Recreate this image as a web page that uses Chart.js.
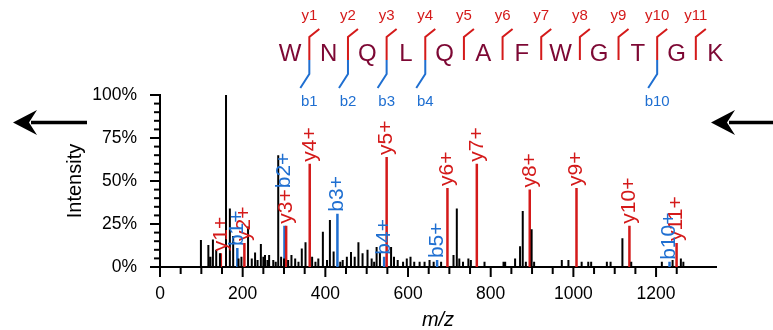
<!DOCTYPE html>
<html><head><meta charset="utf-8">
<script src="https://cdn.jsdelivr.net/npm/chart.js@4/dist/chart.umd.min.js"></script>
<style>html,body{margin:0;padding:0;background:#fff}#c{display:block}</style>
</head><body>
<canvas id="c" width="773" height="330"></canvas>
<script>
// ---------- data ----------
const blackMz  = [99,117,122,128,136,145,159.7,169,177,190,197,213,222,230,236,244,250,254,260,264,274,280,286,293,300,310,318,327,335,343,352,368,376,383,394,404,411,420,436,442,452,462,471,480,490,502,512,518,524,532,559,566,575,588,597,606,615,628,640,652,662,680,710,718,724,733,746,752,785,831,835,859,871,877.5,885,899,905,972,988,1020,1036,1043,1081,1090,1118.6,1140,1214,1240,1260,1266];
const blackInt = [15.7,12.8,6,16,10,8,100,34,18,5,6,23.5,5,8.5,4,13.4,6,7,4,7,4,3,65,6,5,4,7,5,3,10.8,14.4,6,3,5,20.5,4,27.3,9,3,4,6,8.7,6,14.4,8,10,5,3,11.6,8.5,11.6,6,4,3,5,6,3,3,3,4,3,3,7,34,5,3,5,4,3,3,3,5,12,32.6,3,22,3,4,4,3,3,3,3,3,16.7,3,3,4,5,3];

const yIonNames = ['y1+','y2+','y3+','y4+','y5+','y6+','y7+','y8+','y9+','y10+','y11+'];
const yIonMz    = [147.11,204.13,305.18,362.2,548.28,695.35,766.39,894.45,1007.54,1135.59,1249.64];
const yIonInt   = [8,14,24,60,64,46,60,45,46,24,14];

const bIonNames = ['b1+','b2+','b3+','b4+','b5+','b10+'];
const bIonMz    = [187.08,301.13,429.19,542.27,670.33,1232.59];
const bIonInt   = [11,24,31,6,4,3];

const sequence = ['W','N','Q','L','Q','A','F','W','G','T','G','K'];
const yFragmentsMarked = [1,2,3,4,5,6,7,8,9,10,11];
const bFragmentsMarked = [1,2,3,4,10];

const xTickStep = 50, xLabelStep = 200;
const yTickStep = 5, yLabelStep = 25;

// ---------- style ----------
const RED = '#d41a1a', BLUE = '#1f6fd1', SEQ = '#7d0834';
const FONT = '"Liberation Sans", Arial, sans-serif';

function sticks(mz, inten) {
  const d = [];
  mz.forEach((m, i) => { d.push({x: m, y: 0}, {x: m, y: inten[i]}, {x: m, y: null}); });
  return d;
}

const customTicks = {
  id: 'customTicks',
  afterDraw(chart) {
    const ctx = chart.ctx, xs = chart.scales.x, ys = chart.scales.y;
    const ca = chart.chartArea;
    ctx.save();
    ctx.strokeStyle = '#000'; ctx.lineWidth = 2;
    xs.ticks.forEach(t => {
      const px = xs.getPixelForValue(t.value);
      const len = (t.value % xLabelStep === 0) ? 10 : 7;
      ctx.beginPath(); ctx.moveTo(px, ca.bottom); ctx.lineTo(px, ca.bottom + len); ctx.stroke();
    });
    ys.ticks.forEach(t => {
      const py = ys.getPixelForValue(t.value);
      const len = (t.value % yLabelStep === 0) ? 10 : 6;
      ctx.beginPath(); ctx.moveTo(ca.left, py); ctx.lineTo(ca.left - len, py); ctx.stroke();
    });
    ctx.restore();
  }
};

const peakLabels = {
  id: 'peakLabels',
  afterDatasetsDraw(chart) {
    const ctx = chart.ctx, xs = chart.scales.x, ys = chart.scales.y;
    ctx.save();
    ctx.font = '21px ' + FONT;
    ctx.textAlign = 'left'; ctx.textBaseline = 'middle';
    const placed = [];
    const sets = [[yIonNames, yIonMz, yIonInt, RED], [bIonNames, bIonMz, bIonInt, BLUE]];
    sets.forEach(([names, mz, inten, col]) => {
      names.forEach((n, i) => {
        const px = xs.getPixelForValue(mz[i]);
        let start = ys.getPixelForValue(inten[i]) - 2;
        const w = ctx.measureText(n).width;
        placed.forEach(p => {
          if (Math.abs(p.px - px) < 4 && start > p.top - 2 && start - w < p.bottom) start = p.top - 1;
        });
        ctx.fillStyle = col;
        ctx.save(); ctx.translate(px, start); ctx.rotate(-Math.PI / 2);
        ctx.fillText(n, 0, 0); ctx.restore();
        placed.push({px, top: start - w, bottom: start});
      });
    });
    ctx.restore();
  }
};

const sequencePlot = {
  id: 'sequencePlot',
  afterDraw(chart) {
    const ctx = chart.ctx;
    const x0 = 290, step = 38.65, yC = 54;
    ctx.save();
    ctx.font = '24px ' + FONT; ctx.fillStyle = SEQ;
    ctx.textAlign = 'center'; ctx.textBaseline = 'middle';
    sequence.forEach((a, i) => ctx.fillText(a, x0 + i * step, yC));
    ctx.lineWidth = 2; ctx.lineCap = 'butt';
    ctx.font = '15px ' + FONT;
    yFragmentsMarked.forEach(k => {
      const m = x0 + step * (k - 0.5);
      ctx.strokeStyle = RED;
      ctx.beginPath(); ctx.moveTo(m + 10, 29); ctx.lineTo(m, 37); ctx.lineTo(m, 60); ctx.stroke();
      ctx.fillStyle = RED; ctx.fillText('y' + k, m, 16);
    });
    bFragmentsMarked.forEach(k => {
      const m = x0 + step * (k - 0.5);
      ctx.strokeStyle = BLUE;
      ctx.beginPath(); ctx.moveTo(m, 60); ctx.lineTo(m, 74); ctx.lineTo(m - 9, 88); ctx.stroke();
      ctx.fillStyle = BLUE; ctx.fillText('b' + k, m, 102);
    });
    function arrow(tip, tail, y) {
      const dir = tail > tip ? 1 : -1;
      ctx.strokeStyle = '#000'; ctx.fillStyle = '#000'; ctx.lineWidth = 3.5;
      ctx.beginPath(); ctx.moveTo(tail, y); ctx.lineTo(tip + 18 * dir, y); ctx.stroke();
      ctx.beginPath();
      ctx.moveTo(tip, y); ctx.lineTo(tip + 24 * dir, y - 12.5);
      ctx.lineTo(tip + 16 * dir, y); ctx.lineTo(tip + 24 * dir, y + 12.5); ctx.closePath(); ctx.fill();
    }
    arrow(13, 87, 122.5);
    arrow(711, 773, 122.5);
    ctx.restore();
  }
};

new Chart(document.getElementById('c'), {
  type: 'line',
  data: {
    datasets: [
      {data: sticks(blackMz, blackInt), borderColor: '#000', borderWidth: 2},
      {data: sticks(yIonMz, yIonInt), borderColor: RED, borderWidth: 2.5},
      {data: sticks(bIonMz, bIonInt), borderColor: BLUE, borderWidth: 2.5}
    ]
  },
  options: {
    responsive: false, animation: false,
    spanGaps: false,
    elements: {point: {radius: 0, hoverRadius: 0}, line: {tension: 0}},
    layout: {padding: {left: 60, right: 57, top: 95, bottom: 0}},
    plugins: {legend: {display: false}, tooltip: {enabled: false}},
    events: [],
    scales: {
      x: {
        type: 'linear', min: 0, max: 1345,
        afterFit(s) { s.height = 63; },
        afterBuildTicks(s) { s.ticks = s.ticks.filter(t => t.value % xTickStep === 0); },
        ticks: {stepSize: xTickStep, autoSkip: false, maxRotation: 0, padding: 7, color: '#000',
          font: {family: FONT, size: 17.5},
          callback: v => (v % xLabelStep === 0 ? String(v) : '')},
        grid: {display: true, drawOnChartArea: false, drawTicks: true, tickLength: 10, tickColor: 'rgba(0,0,0,0)'},
        border: {display: true, color: '#000', width: 2},
        title: {display: true, text: 'm/z', color: '#000', padding: {top: 0, bottom: 0},
          font: {family: FONT, size: 20, style: 'italic', lineHeight: 1.0}}
      },
      y: {
        type: 'linear', min: 0, max: 100,
        afterFit(s) { s.width = 100; },
        afterBuildTicks(s) { s.ticks = s.ticks.filter(t => t.value % yTickStep === 0); },
        ticks: {stepSize: yTickStep, autoSkip: false, padding: 13, color: '#000',
          font: {family: FONT, size: 17.5},
          callback: v => (v % yLabelStep === 0 ? v + '%' : '')},
        grid: {display: true, drawOnChartArea: false, drawTicks: true, tickLength: 10, tickColor: 'rgba(0,0,0,0)'},
        border: {display: true, color: '#000', width: 2},
        title: {display: true, text: 'Intensity', color: '#000', padding: {top: 3, bottom: 0},
          font: {family: FONT, size: 20, lineHeight: 1.2}}
      }
    }
  },
  plugins: [customTicks, peakLabels, sequencePlot]
});
</script>
</body></html>
